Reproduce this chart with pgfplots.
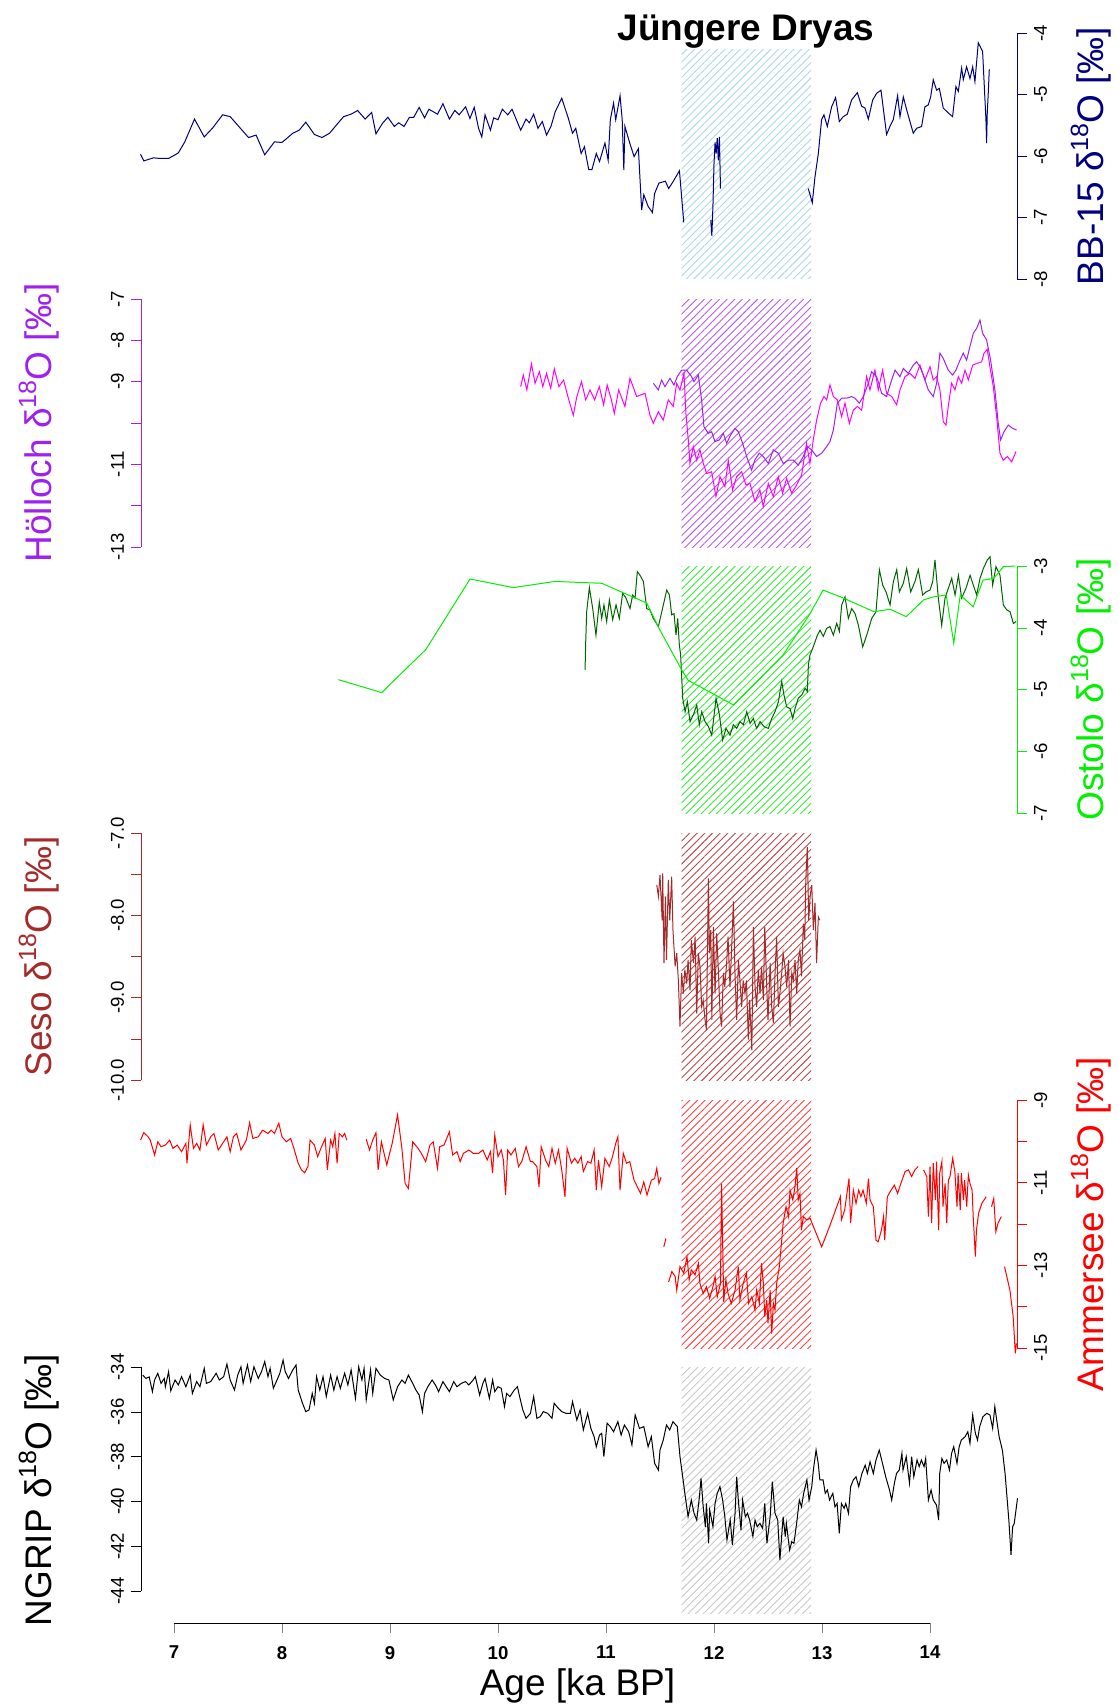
\documentclass[border=0pt]{standalone}
\usepackage{fontspec}
\setmainfont{Liberation Sans}
\usepackage{pgfplots}
\pgfplotsset{compat=1.18}
\usetikzlibrary{patterns.meta}

\definecolor{BBc}{HTML}{000080}
\definecolor{BBh}{HTML}{ADD8E6}
\definecolor{HOm}{HTML}{FF00FF}
\definecolor{HOp}{HTML}{A020F0}
\definecolor{HOh}{HTML}{B45AF5}
\definecolor{OSd}{HTML}{006400}
\definecolor{OSl}{HTML}{00F000}
\definecolor{OSh}{HTML}{33EE33}
\definecolor{SEc}{HTML}{A52A2A}
\definecolor{SEh}{HTML}{B84848}
\definecolor{AMc}{HTML}{FF0000}
\definecolor{AMh}{HTML}{FF4040}
\definecolor{NGh}{HTML}{C8C8C8}

\newcommand{\dO}{δ\raisebox{0.42em}{\fontsize{12.5}{13}\selectfont 18}O}

\pgfplotsset{
  panel/.style={
    scale only axis, width=438pt,
    xmin=6.6944, xmax=14.8056,
    axis x line=none, clip=false,
    yticklabel style={font=\fontsize{9.3}{10}\selectfont, rotate=90, text=black},
    ylabel style={font=\fontsize{18.5}{20}\selectfont, anchor=center},
    every axis plot/.append style={line width=0.5pt, no markers},
  },
  leftpanel/.style={panel, axis y line*=left, tick align=outside, major tick length=5pt,
    yticklabel style={anchor=south},
    ylabel style={at={(axis description cs:-0.1164,0.5)}}},
  rightpanel/.style={panel, axis y line*=right, tick align=outside, major tick length=5pt,
    yticklabel style={anchor=north},
    ylabel style={at={(axis description cs:1.0845,0.5)}}},
  hatch/.style={draw=none, pattern={Lines[angle=45,distance=2.7pt,line width=0.45pt]}, pattern color=#1},
}

\begin{document}
\begin{tikzpicture}

% BB-15
\begin{axis}[rightpanel, height=123pt, at={(70.5pt,-139.5pt)}, anchor=south west,
  ymin=-8, ymax=-4, ytick={-8,-7,-6,-5,-4}, yticklabels={-8,-7,-6,-5,-4},
  y axis line style={BBc}, ytick style={BBc},
  ylabel={BB-15 \dO{} [‰]}, ylabel style={BBc}]
\addplot[hatch=BBh] coordinates {(11.7,-8) (11.7,-4.27) (12.9,-4.27) (12.9,-8)} -- cycle;
\addplot[BBc] coordinates {(6.69,-5.97) (6.72,-6.08) (6.81,-6.03) (6.87,-6.04) (6.95,-6.04) (7.04,-5.95) (7.10,-5.77) (7.19,-5.40) (7.28,-5.69) (7.36,-5.54) (7.45,-5.33) (7.52,-5.36) (7.60,-5.52) (7.69,-5.70) (7.76,-5.66) (7.84,-5.98) (7.93,-5.77) (8.00,-5.78) (8.10,-5.63) (8.16,-5.58) (8.22,-5.45) (8.30,-5.65) (8.37,-5.70) (8.44,-5.63) (8.57,-5.36) (8.64,-5.32) (8.70,-5.26) (8.77,-5.40) (8.83,-5.29) (8.87,-5.64) (8.93,-5.47) (8.98,-5.37) (9.04,-5.52) (9.08,-5.46) (9.13,-5.52) (9.18,-5.37) (9.22,-5.37) (9.27,-5.21) (9.32,-5.38) (9.36,-5.24) (9.44,-5.32) (9.49,-5.15) (9.55,-5.40) (9.60,-5.26) (9.64,-5.33) (9.70,-5.20) (9.74,-5.39) (9.78,-5.21) (9.82,-5.55) (9.85,-5.69) (9.88,-5.33) (9.93,-5.58) (9.96,-5.38) (10.00,-5.41) (10.04,-5.24) (10.09,-5.33) (10.13,-5.24) (10.21,-5.58) (10.26,-5.40) (10.29,-5.46) (10.33,-5.32) (10.37,-5.55) (10.41,-5.44) (10.45,-5.66) (10.49,-5.52) (10.53,-5.28) (10.59,-5.06) (10.65,-5.38) (10.69,-5.63) (10.72,-5.55) (10.77,-5.96) (10.80,-5.85) (10.84,-6.22) (10.87,-6.22) (10.91,-5.96) (10.94,-6.09) (10.99,-5.79) (11.02,-6.07) (11.04,-5.41) (11.07,-5.14) (11.09,-5.41) (11.13,-5.02) (11.15,-5.41) (11.165,-6.23) (11.175,-5.52) (11.22,-5.79) (11.26,-6.01) (11.30,-5.88) (11.33,-6.88) (11.35,-6.63) (11.39,-6.82) (11.43,-6.92) (11.45,-6.61) (11.49,-6.44) (11.55,-6.41) (11.58,-6.53) (11.62,-6.42) (11.68,-6.24) (11.70,-6.66) (11.72,-7.08)};
\addplot[BBc] coordinates {(11.97,-7.04) (11.98,-7.30) (11.99,-6.82) (12.00,-6.12) (12.01,-5.78) (12.02,-5.96) (12.03,-5.71) (12.04,-6.07) (12.05,-5.69) (12.06,-6.53)};
\addplot[BBc] coordinates {(12.873,-6.53) (12.910,-6.76) (12.935,-6.34) (12.966,-5.96) (12.996,-5.41) (13.018,-5.33) (13.049,-5.52) (13.089,-5.20) (13.126,-5.05) (13.160,-5.44) (13.197,-5.36) (13.234,-5.32) (13.274,-5.09) (13.327,-4.97) (13.367,-5.19) (13.398,-5.22) (13.429,-5.40) (13.469,-5.09) (13.506,-4.98) (13.546,-4.93) (13.598,-5.65) (13.629,-5.52) (13.660,-5.41) (13.700,-5.02) (13.722,-5.36) (13.753,-5.04) (13.784,-5.25) (13.845,-5.63) (13.876,-5.55) (13.922,-5.52) (13.953,-5.20) (13.984,-5.17) (14.006,-5.04) (14.030,-4.76) (14.061,-4.93) (14.086,-4.90) (14.123,-5.22) (14.169,-5.30) (14.209,-5.36) (14.240,-4.87) (14.262,-4.95) (14.293,-4.57) (14.308,-4.76) (14.339,-4.55) (14.370,-4.74) (14.395,-4.55) (14.416,-4.79) (14.447,-4.16) (14.487,-4.30) (14.509,-5.09) (14.518,-5.41) (14.524,-5.79) (14.530,-5.31) (14.540,-4.95) (14.549,-4.59)};
\end{axis}

% Hoelloch
\begin{axis}[leftpanel, height=124pt, at={(70.5pt,-273.5pt)}, anchor=south west,
  ymin=-13, ymax=-7, ytick={-13,-12,-11,-10,-9,-8,-7}, yticklabels={-13,,-11,,-9,-8,-7},
  y axis line style={HOp}, ytick style={HOp},
  ylabel={Hölloch \dO{} [‰]}, ylabel style={HOp}]
\addplot[hatch=HOh] coordinates {(11.7,-13) (11.7,-7) (12.9,-7) (12.9,-13)} -- cycle;
\addplot[HOm] coordinates {(10.21,-9.12) (10.234,-8.84) (10.267,-9.20) (10.310,-8.57) (10.343,-9.04) (10.383,-8.76) (10.415,-9.12) (10.449,-8.80) (10.488,-9.16) (10.521,-8.69) (10.564,-9.12) (10.607,-8.96) (10.647,-9.36) (10.697,-9.81) (10.730,-9.36) (10.773,-9.00) (10.812,-9.44) (10.852,-9.20) (10.895,-9.44) (10.938,-9.12) (10.978,-9.56) (11.011,-9.08) (11.050,-9.44) (11.077,-9.77) (11.117,-9.20) (11.175,-9.60) (11.222,-8.92) (11.284,-9.36) (11.361,-9.28) (11.407,-9.81) (11.438,-10.01) (11.484,-9.73) (11.530,-9.93) (11.577,-9.44) (11.623,-9.60) (11.654,-9.04) (11.685,-9.20) (11.722,-8.80) (11.740,-9.77) (11.762,-10.41) (11.777,-10.98) (11.808,-10.57) (11.839,-10.90) (11.870,-10.65) (11.901,-10.98) (11.932,-11.22) (11.978,-11.18) (12.018,-11.78) (12.055,-11.30) (12.101,-11.54) (12.132,-10.90) (12.172,-11.62) (12.209,-11.30) (12.256,-11.18) (12.296,-11.50) (12.333,-11.46) (12.379,-11.90) (12.425,-11.62) (12.456,-12.02) (12.503,-11.46) (12.549,-11.78) (12.595,-11.30) (12.635,-11.70) (12.672,-11.34) (12.719,-11.70) (12.765,-11.50) (12.811,-11.26) (12.857,-10.49) (12.888,-10.98) (12.919,-10.41) (12.950,-9.93) (12.987,-9.52) (13.018,-9.36) (13.043,-9.44) (13.074,-9.08) (13.105,-9.36) (13.142,-9.44) (13.182,-9.85) (13.213,-9.52) (13.253,-10.01) (13.290,-9.69) (13.327,-9.60) (13.367,-9.69) (13.413,-8.88) (13.444,-9.20) (13.490,-8.72) (13.521,-9.20) (13.561,-8.72) (13.598,-9.28) (13.645,-9.36) (13.691,-9.56) (13.722,-9.20) (13.768,-8.88) (13.814,-8.80) (13.861,-8.92) (13.907,-8.60) (13.953,-8.96) (14.000,-8.64) (14.030,-8.96) (14.061,-8.88) (14.092,-9.20) (14.123,-9.97) (14.148,-10.05) (14.169,-9.60) (14.200,-9.04) (14.231,-9.20) (14.262,-8.88) (14.293,-9.04) (14.324,-8.72) (14.355,-8.96) (14.395,-8.60) (14.432,-8.56) (14.478,-8.52) (14.500,-8.31) (14.530,-8.22) (14.555,-8.64) (14.586,-9.12) (14.617,-9.85) (14.648,-10.73) (14.678,-10.90) (14.716,-10.81) (14.756,-10.94) (14.796,-10.69)};
\addplot[HOp] coordinates {(11.438,-9.04) (11.484,-9.20) (11.515,-8.96) (11.546,-9.12) (11.592,-8.92) (11.629,-9.08) (11.660,-8.88) (11.700,-8.72) (11.746,-8.72) (11.793,-8.88) (11.814,-9.00) (11.855,-8.84) (11.885,-9.44) (11.907,-10.09) (11.947,-10.25) (11.978,-10.21) (12.009,-10.45) (12.049,-10.41) (12.086,-10.25) (12.117,-10.49) (12.154,-10.29) (12.194,-10.13) (12.225,-10.21) (12.265,-10.49) (12.302,-10.81) (12.348,-11.14) (12.379,-10.89) (12.419,-10.73) (12.456,-10.81) (12.503,-10.98) (12.549,-10.65) (12.595,-10.73) (12.641,-10.98) (12.688,-10.90) (12.734,-10.90) (12.780,-11.02) (12.827,-10.81) (12.864,-10.57) (12.904,-10.65) (12.950,-10.81) (12.997,-10.73) (13.043,-10.57) (13.074,-10.45) (13.105,-10.17) (13.142,-9.52) (13.182,-9.40) (13.228,-9.40) (13.274,-9.36) (13.305,-9.40) (13.345,-9.52) (13.382,-9.36) (13.429,-9.04) (13.459,-8.76) (13.506,-8.88) (13.552,-9.28) (13.598,-9.36) (13.645,-8.96) (13.676,-8.72) (13.722,-8.88) (13.753,-8.68) (13.799,-8.80) (13.845,-8.60) (13.876,-8.52) (13.907,-8.64) (13.944,-8.88) (13.984,-9.20) (14.030,-9.36) (14.061,-9.04) (14.092,-8.31) (14.123,-8.44) (14.169,-8.72) (14.209,-8.84) (14.240,-8.72) (14.271,-8.52) (14.308,-8.31) (14.339,-8.48) (14.370,-8.15) (14.401,-7.83) (14.432,-7.71) (14.463,-7.51) (14.487,-7.83) (14.524,-7.99) (14.561,-8.48) (14.601,-9.20) (14.632,-10.01) (14.654,-10.41) (14.685,-10.21) (14.725,-10.05) (14.765,-10.13) (14.802,-10.17)};
\end{axis}

% Ostolo
\begin{axis}[rightpanel, height=123.5pt, at={(70.5pt,-406.5pt)}, anchor=south west,
  ymin=-7, ymax=-3, ytick={-7,-6,-5,-4,-3}, yticklabels={-7,-6,-5,-4,-3},
  y axis line style={OSl}, ytick style={OSl},
  ylabel={Ostolo \dO{} [‰]}, ylabel style={OSl}]
\addplot[hatch=OSh] coordinates {(11.7,-7) (11.7,-3) (12.9,-3) (12.9,-7)} -- cycle;
\addplot[OSd] coordinates {(10.806,-4.68) (10.812,-4.24) (10.821,-3.74) (10.846,-3.35) (10.877,-3.69) (10.907,-4.12) (10.938,-3.58) (10.960,-3.85) (10.981,-3.63) (11.006,-3.90) (11.031,-3.55) (11.062,-3.87) (11.093,-3.63) (11.123,-3.85) (11.154,-3.44) (11.185,-3.52) (11.222,-3.69) (11.247,-3.47) (11.269,-3.52) (11.290,-3.09) (11.315,-3.15) (11.346,-3.25) (11.377,-3.69) (11.407,-3.71) (11.438,-3.85) (11.485,-3.98) (11.531,-3.63) (11.562,-3.39) (11.587,-3.47) (11.608,-3.79) (11.630,-3.77) (11.648,-4.12) (11.664,-3.85) (11.679,-4.28) (11.691,-4.44) (11.710,-5.14) (11.732,-5.36) (11.753,-5.20) (11.778,-5.52) (11.809,-5.41) (11.840,-5.25) (11.864,-5.57) (11.886,-5.36) (11.917,-5.52) (11.948,-5.60) (11.979,-5.74) (12.019,-5.14) (12.050,-5.41) (12.080,-5.82) (12.111,-5.63) (12.148,-5.74) (12.179,-5.57) (12.210,-5.63) (12.241,-5.52) (12.272,-5.57) (12.303,-5.36) (12.334,-5.55) (12.364,-5.47) (12.395,-5.63) (12.426,-5.52) (12.463,-5.60) (12.503,-5.63) (12.534,-5.47) (12.565,-5.36) (12.596,-5.20) (12.627,-4.87) (12.648,-5.09) (12.673,-5.28) (12.704,-5.31) (12.729,-5.47) (12.750,-5.31) (12.781,-5.14) (12.812,-5.09) (12.843,-4.98) (12.864,-5.03) (12.874,-4.60) (12.889,-4.44) (12.914,-4.33) (12.935,-4.23) (12.957,-4.12) (12.982,-4.04) (13.012,-4.14) (13.043,-4.01) (13.074,-3.98) (13.105,-4.12) (13.136,-3.93) (13.161,-4.06) (13.182,-3.63) (13.213,-3.50) (13.244,-3.85) (13.275,-3.69) (13.306,-3.77) (13.337,-3.96) (13.377,-4.31) (13.414,-4.12) (13.460,-3.85) (13.500,-3.74) (13.531,-3.06) (13.562,-3.31) (13.593,-3.42) (13.630,-3.63) (13.661,-3.25) (13.692,-3.06) (13.716,-3.42) (13.753,-3.28) (13.784,-3.04) (13.821,-3.42) (13.861,-3.25) (13.892,-3.06) (13.932,-3.47) (13.963,-3.42) (14.000,-3.39) (14.025,-3.25) (14.046,-2.90) (14.077,-3.52) (14.108,-3.96) (14.139,-3.52) (14.170,-3.36) (14.201,-3.20) (14.232,-3.47) (14.263,-3.15) (14.293,-3.52) (14.333,-3.36) (14.371,-3.15) (14.401,-3.31) (14.432,-3.47) (14.463,-3.20) (14.494,-3.04) (14.531,-2.90) (14.556,-2.85) (14.580,-3.31) (14.611,-3.01) (14.648,-3.15) (14.679,-3.63) (14.710,-3.71) (14.741,-3.74) (14.772,-3.93) (14.796,-3.90)};
\addplot[OSl] coordinates {(8.522,-4.84) (8.923,-5.05) (9.333,-4.35) (9.741,-3.21) (10.142,-3.35) (10.528,-3.25) (10.960,-3.28) (11.377,-3.60) (11.500,-4.04) (11.700,-4.68) (11.760,-4.85) (12.180,-5.25) (12.380,-4.90) (12.640,-4.44) (12.890,-3.77) (13.010,-3.39) (13.200,-3.52) (13.480,-3.74) (13.630,-3.70) (13.780,-3.82) (13.940,-3.55) (14.030,-3.50) (14.150,-3.47) (14.220,-4.25) (14.280,-3.47) (14.400,-3.66) (14.490,-3.23) (14.590,-3.20) (14.680,-3.01) (14.790,-3.00)};
\end{axis}

% Seso
\begin{axis}[leftpanel, height=123.5pt, at={(70.5pt,-540pt)}, anchor=south west,
  ymin=-10, ymax=-7, ytick={-10,-9.5,-9,-8.5,-8,-7.5,-7}, yticklabels={-10.0,,-9.0,,-8.0,,-7.0},
  y axis line style={SEc}, ytick style={SEc},
  ylabel={Seso \dO{} [‰]}, ylabel style={SEc}]
\addplot[hatch=SEh] coordinates {(11.7,-10) (11.7,-7) (12.9,-7) (12.9,-10)} -- cycle;
\addplot[SEc] coordinates {(11.47,-7.63) (11.485,-7.77) (11.50,-7.51) (11.52,-8.06) (11.525,-7.49) (11.537,-8.58) (11.55,-7.77) (11.56,-8.54) (11.577,-7.57) (11.59,-8.06) (11.608,-7.53) (11.62,-8.18) (11.64,-8.62) (11.655,-8.46) (11.67,-8.79) (11.685,-9.35) (11.70,-8.70) (11.716,-8.95) (11.73,-8.66) (11.747,-8.83) (11.76,-8.54) (11.778,-8.91) (11.79,-8.30) (11.81,-8.58) (11.825,-8.26) (11.84,-9.19) (11.855,-8.46) (11.87,-8.62) (11.886,-9.11) (11.90,-9.03) (11.917,-9.27) (11.93,-9.39) (11.948,-7.55) (11.957,-8.46) (11.97,-8.18) (11.98,-9.27) (11.994,-8.14) (12.01,-8.95) (12.025,-8.22) (12.04,-8.66) (12.056,-9.19) (12.07,-9.35) (12.087,-8.70) (12.10,-8.87) (12.117,-8.58) (12.13,-8.26) (12.148,-8.87) (12.164,-8.38) (12.18,-7.83) (12.195,-8.74) (12.21,-9.27) (12.226,-8.54) (12.24,-8.79) (12.256,-9.11) (12.27,-8.79) (12.287,-8.95) (12.30,-8.79) (12.318,-9.51) (12.33,-9.03) (12.35,-9.64) (12.365,-8.14) (12.38,-8.87) (12.395,-9.11) (12.41,-8.66) (12.426,-8.95) (12.44,-8.62) (12.457,-9.03) (12.47,-8.14) (12.488,-8.87) (12.50,-9.27) (12.52,-8.58) (12.534,-9.11) (12.55,-9.31) (12.565,-8.70) (12.58,-8.26) (12.596,-9.11) (12.61,-8.95) (12.627,-8.70) (12.64,-8.46) (12.657,-8.62) (12.673,-8.87) (12.69,-8.54) (12.704,-9.35) (12.72,-8.70) (12.735,-8.79) (12.75,-8.54) (12.766,-8.95) (12.78,-8.54) (12.796,-8.42) (12.81,-8.74) (12.827,-8.10) (12.84,-8.30) (12.85,-7.57) (12.864,-7.17) (12.877,-8.06) (12.89,-7.77) (12.905,-7.63) (12.92,-8.18) (12.935,-7.85) (12.95,-8.58) (12.966,-8.02) (12.98,-8.06)};
\end{axis}

% Ammersee
\begin{axis}[rightpanel, height=124pt, at={(70.5pt,-674pt)}, anchor=south west,
  ymin=-15, ymax=-9, ytick={-15,-14,-13,-12,-11,-10,-9}, yticklabels={-15,,-13,,-11,,-9},
  y axis line style={AMc}, ytick style={AMc},
  ylabel={Ammersee \dO{} [‰]}, ylabel style={AMc}]
\addplot[hatch=AMh] coordinates {(11.7,-15) (11.7,-9) (12.9,-9) (12.9,-15)} -- cycle;
\addplot[AMc] coordinates {(6.69,-9.97) (6.72,-9.79) (6.76,-9.89) (6.78,-9.97) (6.82,-10.33) (6.85,-10.01) (6.88,-10.13) (6.92,-10.09) (6.96,-9.97) (6.99,-10.17) (7.03,-10.09) (7.07,-10.25) (7.11,-10.05) (7.12,-10.53) (7.15,-9.60) (7.18,-10.17) (7.21,-10.05) (7.24,-10.21) (7.27,-9.60) (7.30,-10.09) (7.34,-9.89) (7.37,-9.81) (7.41,-10.21) (7.45,-10.05) (7.49,-9.89) (7.52,-10.25) (7.55,-9.89) (7.58,-9.81) (7.62,-10.21) (7.67,-9.97) (7.70,-9.55) (7.73,-9.93) (7.78,-9.89) (7.82,-9.73) (7.87,-9.81) (7.90,-9.73) (7.93,-9.81) (7.97,-9.56) (8.00,-9.89) (8.04,-10.01) (8.08,-9.93) (8.11,-10.17) (8.15,-10.53) (8.18,-10.69) (8.21,-10.76) (8.24,-10.61) (8.26,-9.97) (8.30,-10.09) (8.33,-10.37) (8.36,-10.17) (8.40,-9.93) (8.42,-10.69) (8.45,-9.97) (8.47,-10.13) (8.49,-9.81) (8.51,-10.53) (8.53,-9.81) (8.56,-9.89) (8.58,-9.81) (8.60,-9.97)};
\addplot[AMc] coordinates {(8.78,-9.95) (8.81,-10.21) (8.84,-9.97) (8.87,-9.79) (8.89,-10.69) (8.92,-10.01) (8.97,-10.57) (9.02,-10.05) (9.07,-9.36) (9.11,-10.17) (9.14,-11.02) (9.17,-11.14) (9.21,-10.01) (9.26,-10.17) (9.29,-10.29) (9.33,-10.49) (9.37,-10.09) (9.40,-10.01) (9.44,-10.65) (9.46,-10.13) (9.50,-10.09) (9.55,-9.77) (9.58,-10.33) (9.62,-10.25) (9.65,-10.49) (9.68,-10.29) (9.73,-10.21) (9.77,-10.29) (9.82,-10.29) (9.86,-10.21) (9.90,-10.45) (9.93,-10.25) (9.95,-10.77) (9.97,-9.85) (10.00,-10.37) (10.03,-10.21) (10.05,-10.45) (10.07,-11.30) (10.09,-10.21) (10.12,-10.33) (10.16,-10.17) (10.19,-10.61) (10.22,-10.49) (10.26,-10.13) (10.30,-10.49) (10.32,-10.49) (10.36,-10.61) (10.38,-11.10) (10.40,-10.13) (10.44,-10.45) (10.47,-10.61) (10.50,-10.17) (10.53,-10.53) (10.56,-10.21) (10.59,-10.69) (10.62,-11.34) (10.64,-10.17) (10.68,-10.53) (10.71,-10.41) (10.74,-10.53) (10.77,-10.37) (10.79,-10.73) (10.83,-10.49) (10.86,-10.53) (10.89,-10.21) (10.91,-11.18) (10.93,-10.45) (10.96,-11.10) (10.99,-10.41) (11.03,-10.61) (11.06,-10.37) (11.09,-10.05) (11.11,-9.89) (11.13,-11.18) (11.16,-10.29) (11.19,-10.53) (11.22,-10.49) (11.26,-10.94) (11.29,-11.10) (11.32,-11.26) (11.35,-10.98) (11.38,-11.30) (11.42,-10.94) (11.45,-10.90) (11.47,-10.65) (11.49,-11.02) (11.51,-10.87)};
\addplot[AMc] coordinates {(11.535,-12.55) (11.555,-12.35)};
\addplot[AMc] coordinates {(11.58,-13.40) (11.61,-13.15) (11.64,-13.27) (11.655,-13.60) (11.685,-13.03) (11.72,-13.19) (11.75,-12.79) (11.77,-13.35) (11.79,-13.11) (11.825,-13.23) (11.855,-12.95) (11.87,-13.44) (11.90,-13.68) (11.93,-13.52) (11.96,-13.80) (11.99,-13.52) (12.01,-13.27) (12.03,-13.76) (12.06,-13.44) (12.07,-11.02) (12.09,-13.88) (12.11,-13.35) (12.13,-13.68) (12.16,-13.92) (12.195,-13.60) (12.225,-13.03) (12.24,-13.84) (12.27,-13.44) (12.30,-13.19) (12.32,-13.92) (12.35,-13.76) (12.38,-14.08) (12.395,-13.60) (12.42,-13.92) (12.44,-12.95) (12.457,-13.44) (12.47,-14.24) (12.488,-13.84) (12.50,-14.40) (12.52,-13.60) (12.534,-14.65) (12.55,-13.92) (12.565,-14.08) (12.58,-13.44) (12.605,-13.03) (12.627,-12.39) (12.64,-11.98) (12.667,-11.58) (12.69,-11.82) (12.704,-11.18) (12.73,-11.42) (12.75,-11.10) (12.766,-10.65) (12.78,-11.42) (12.796,-11.26) (12.81,-12.15) (12.827,-11.82) (12.86,-11.90) (12.89,-11.86) (12.92,-12.06) (12.997,-12.55) (13.07,-12.06) (13.17,-11.34) (13.18,-11.90) (13.21,-11.66) (13.25,-10.90) (13.265,-11.98) (13.29,-11.18) (13.315,-11.50) (13.34,-11.18) (13.36,-11.34) (13.38,-11.18) (13.41,-11.50) (13.43,-10.90) (13.445,-11.42) (13.475,-11.58) (13.50,-12.39) (13.52,-12.43) (13.55,-12.15) (13.57,-11.82) (13.58,-12.39) (13.605,-11.34) (13.64,-11.18) (13.67,-11.06) (13.70,-11.26) (13.73,-11.02) (13.77,-10.73) (13.80,-10.69) (13.83,-10.85) (13.86,-10.69) (13.89,-10.61)};
\addplot[AMc] coordinates {(13.94,-10.69) (13.97,-10.85) (13.985,-11.82) (14.00,-10.61) (14.015,-11.98) (14.03,-10.53) (14.05,-11.42) (14.06,-10.49) (14.08,-12.15) (14.09,-10.77) (14.11,-10.49) (14.12,-11.58) (14.14,-11.02) (14.155,-11.98) (14.17,-10.94) (14.185,-10.85) (14.21,-10.41) (14.23,-10.73) (14.25,-11.58) (14.26,-10.77) (14.28,-11.66) (14.29,-10.77) (14.31,-11.42) (14.32,-10.94) (14.34,-11.58) (14.355,-10.81) (14.37,-11.02) (14.39,-11.18) (14.40,-11.82) (14.42,-12.79) (14.43,-12.15) (14.45,-11.74) (14.48,-11.50) (14.52,-11.34)};
\addplot[AMc] coordinates {(14.57,-11.58) (14.59,-11.38) (14.61,-12.19) (14.63,-11.98) (14.66,-11.82)};
\addplot[AMc] coordinates {(14.69,-13.03) (14.74,-13.60) (14.77,-14.24) (14.79,-15.13) (14.80,-14.89)};
\end{axis}

% NGRIP
\begin{axis}[leftpanel, height=112pt, at={(70.5pt,-795.5pt)}, anchor=south west,
  ymin=-44, ymax=-34, ytick={-44,-42,-40,-38,-36,-34}, yticklabels={-44,-42,-40,-38,-36,-34},
  y axis line style={black}, ytick style={black},
  ylabel={NGRIP \dO{} [‰]}, ylabel style={black, at={(axis description cs:-0.1164,0.451)}}]
\addplot[hatch=NGh] coordinates {(11.7,-45) (11.7,-34) (12.9,-34) (12.9,-45)} -- cycle;
\addplot[black] coordinates {(6.71,-34.36) (6.74,-34.51) (6.77,-34.44) (6.80,-35.10) (6.82,-34.58) (6.85,-34.28) (6.88,-34.73) (6.91,-34.51) (6.92,-34.88) (6.95,-34.21) (6.97,-35.06) (7.01,-34.58) (7.04,-34.80) (7.07,-34.43) (7.11,-34.88) (7.15,-34.36) (7.17,-35.18) (7.21,-34.65) (7.24,-34.88) (7.28,-34.06) (7.30,-34.73) (7.34,-34.65) (7.39,-34.28) (7.42,-34.58) (7.46,-34.43) (7.49,-33.87) (7.52,-34.58) (7.56,-35.03) (7.59,-34.36) (7.62,-33.99) (7.64,-34.73) (7.68,-33.91) (7.71,-34.65) (7.74,-33.99) (7.78,-34.51) (7.81,-34.21) (7.84,-33.76) (7.87,-34.43) (7.89,-34.06) (7.92,-34.95) (7.96,-34.51) (7.98,-34.28) (8.01,-33.69) (8.03,-34.21) (8.06,-34.51) (8.10,-34.13) (8.13,-33.91) (8.15,-35.03) (8.19,-35.62) (8.22,-35.99) (8.25,-35.92) (8.28,-35.18) (8.30,-35.62) (8.32,-34.43) (8.35,-35.03) (8.38,-34.43) (8.41,-35.32) (8.45,-34.36) (8.48,-35.03) (8.51,-34.43) (8.54,-34.95) (8.58,-34.28) (8.61,-34.80) (8.64,-34.13) (8.68,-35.40) (8.71,-33.99) (8.74,-34.58) (8.76,-34.06) (8.78,-35.47) (8.82,-34.13) (8.84,-35.18) (8.87,-34.06) (8.91,-34.36) (8.95,-34.51) (8.99,-34.58) (9.03,-35.47) (9.07,-34.88) (9.11,-34.58) (9.14,-34.73) (9.17,-34.36) (9.21,-34.73) (9.24,-35.03) (9.27,-35.25) (9.30,-35.99) (9.32,-35.18) (9.35,-34.88) (9.39,-34.58) (9.42,-34.80) (9.45,-35.10) (9.49,-34.65) (9.52,-34.88) (9.55,-35.10) (9.59,-34.65) (9.62,-34.88) (9.66,-34.73) (9.70,-34.65) (9.73,-34.80) (9.77,-34.58) (9.79,-34.43) (9.83,-35.25) (9.86,-34.73) (9.88,-34.51) (9.92,-35.40) (9.95,-34.58) (9.97,-35.10) (10.00,-34.88) (10.03,-34.95) (10.06,-35.77) (10.08,-35.18) (10.11,-35.32) (10.15,-35.03) (10.18,-34.88) (10.20,-35.32) (10.23,-35.92) (10.26,-36.29) (10.30,-36.07) (10.33,-35.32) (10.36,-36.29) (10.39,-36.22) (10.42,-35.99) (10.46,-36.07) (10.50,-36.29) (10.52,-35.62) (10.56,-35.85) (10.59,-35.99) (10.63,-36.07) (10.67,-36.07) (10.69,-35.55) (10.73,-36.37) (10.76,-35.92) (10.79,-36.81) (10.83,-36.07) (10.86,-36.74) (10.89,-37.11) (10.91,-37.56) (10.94,-37.04) (10.96,-36.96) (10.98,-38.00) (11.01,-36.51) (11.04,-36.66) (11.07,-36.89) (11.11,-36.44) (11.14,-37.04) (11.17,-36.59) (11.21,-36.89) (11.24,-37.48) (11.27,-36.14) (11.31,-36.74) (11.35,-36.66) (11.39,-37.56) (11.42,-37.11) (11.45,-38.30) (11.485,-38.60) (11.50,-37.71) (11.53,-37.26) (11.56,-36.59) (11.59,-36.81) (11.62,-36.44) (11.66,-36.66) (11.685,-38.00) (11.71,-38.90) (11.73,-39.64) (11.76,-40.68) (11.79,-39.94) (11.815,-40.53) (11.84,-40.83) (11.865,-39.79) (11.88,-38.97) (11.90,-40.24) (11.92,-41.13) (11.93,-40.09) (11.95,-41.87) (11.96,-40.38) (11.99,-41.13) (12.01,-40.09) (12.03,-39.64) (12.055,-39.34) (12.08,-39.94) (12.10,-40.68) (12.12,-41.72) (12.15,-40.83) (12.17,-41.95) (12.195,-40.53) (12.21,-38.90) (12.225,-39.94) (12.25,-41.28) (12.265,-39.94) (12.29,-40.68) (12.31,-40.53) (12.33,-40.83) (12.36,-41.57) (12.38,-40.83) (12.40,-41.13) (12.425,-40.98) (12.45,-41.20) (12.47,-40.09) (12.49,-41.87) (12.52,-40.68) (12.54,-39.12) (12.565,-40.53) (12.59,-40.83) (12.61,-42.62) (12.64,-40.68) (12.66,-41.57) (12.67,-40.98) (12.70,-42.17) (12.72,-41.80) (12.74,-41.87) (12.765,-40.98) (12.79,-39.94) (12.81,-40.24) (12.83,-39.64) (12.86,-39.04) (12.88,-39.94) (12.905,-39.34) (12.92,-38.60) (12.945,-37.71) (12.965,-38.30) (12.98,-39.04) (13.01,-39.04) (13.03,-39.64) (13.05,-39.49) (13.07,-39.94) (13.10,-39.64) (13.12,-40.24) (13.14,-40.09) (13.16,-41.43) (13.18,-40.09) (13.205,-40.31) (13.22,-40.09) (13.245,-40.53) (13.265,-39.34) (13.29,-39.04) (13.315,-38.90) (13.34,-39.34) (13.37,-38.75) (13.40,-38.38) (13.42,-38.75) (13.445,-38.23) (13.475,-38.75) (13.50,-38.15) (13.53,-37.71) (13.56,-38.30) (13.59,-38.90) (13.625,-39.49) (13.645,-39.94) (13.67,-39.19) (13.69,-38.75) (13.715,-38.60) (13.74,-37.85) (13.75,-38.60) (13.78,-38.00) (13.81,-39.19) (13.83,-38.00) (13.85,-38.90) (13.88,-38.15) (13.90,-38.45) (13.92,-38.15) (13.945,-38.45) (13.96,-38.08) (13.985,-39.94) (14.01,-39.49) (14.03,-39.94) (14.06,-40.16) (14.08,-40.83) (14.09,-38.75) (14.11,-38.08) (14.13,-38.30) (14.155,-38.15) (14.18,-38.60) (14.20,-37.85) (14.22,-37.56) (14.25,-38.30) (14.27,-37.56) (14.29,-37.26) (14.325,-37.11) (14.35,-36.89) (14.37,-37.41) (14.395,-36.14) (14.42,-36.96) (14.44,-37.26) (14.46,-36.66) (14.49,-36.22) (14.525,-36.07) (14.555,-36.14) (14.58,-36.74) (14.60,-35.77) (14.62,-36.44) (14.64,-37.11) (14.67,-37.71) (14.695,-38.75) (14.71,-39.64) (14.73,-40.83) (14.75,-42.39) (14.765,-41.13) (14.78,-40.98) (14.80,-40.24) (14.81,-39.86)};
\end{axis}

% shared age axis
\begin{axis}[scale only axis, width=378pt, height=10pt, at={(87pt,-811.5pt)}, anchor=south west,
  xmin=7, xmax=14, ymin=0, ymax=1, axis y line=none, axis x line*=bottom,
  tick align=outside, major tick length=5pt,
  xtick={7,8,9,10,11,12,13,14}, xticklabels={7,8,9,10,11,12,13,14},
  xticklabel shift=3pt,
  xticklabel style={font=\bfseries\fontsize{9.3}{10}\selectfont}]
\end{axis}

\node[font=\bfseries\fontsize{18.5}{20}\selectfont] at (373pt,-16pt) {Jüngere Dryas};
\node[font=\fontsize{18.5}{20}\selectfont] at (288.75pt,-843pt) {Age [ka BP]};

\pgfresetboundingbox
\path[use as bounding box] (0,0) rectangle (559pt,-853pt);
\end{tikzpicture}
\end{document}
